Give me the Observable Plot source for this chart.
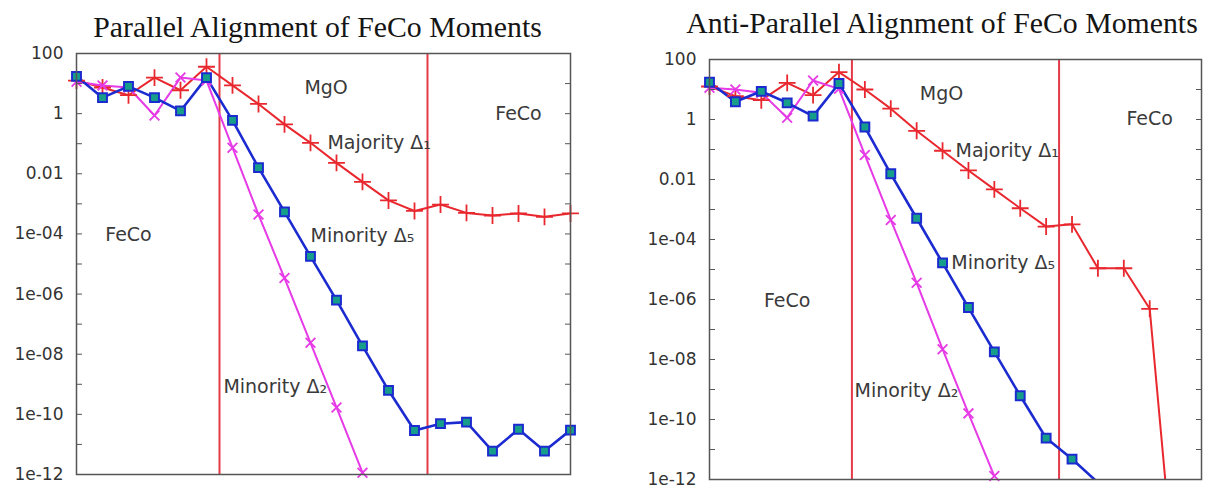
<!DOCTYPE html>
<html><head><meta charset="utf-8">
<script src="https://cdn.jsdelivr.net/npm/d3@7"></script>
<script src="https://cdn.jsdelivr.net/npm/@observablehq/plot@0.6"></script>
<style>
body{margin:0;background:#fff;}
#wrap{position:relative;width:1208px;height:489px;overflow:hidden;background:#fff;}
.title{position:absolute;font-family:"Liberation Serif","Times New Roman",serif;font-size:29.8px;line-height:29.8px;white-space:nowrap;text-align:center;color:#151515;}
.panel{position:absolute;}
</style></head><body>
<div id="wrap">
  <div class="title" style="left:0px;width:635px;top:12px">Parallel Alignment of FeCo Moments</div>
  <div class="title" style="left:642px;width:600px;top:8px">Anti-Parallel Alignment of FeCo Moments</div>
  <div class="panel" id="p1" style="left:0px;top:44px"></div>
  <div class="panel" id="p2" style="left:600px;top:50px"></div>
</div>
<script>
// ---- data (layer index = position in array) ----
const interfaces = [5.5, 13.5];            // FeCo | MgO | FeCo boundaries (layer units)
const yTickValues = [100, 1, 0.01, 1e-4, 1e-6, 1e-8, 1e-10, 1e-12];
const yTickLabels = ["100", "1", "0.01", "1e-04", "1e-06", "1e-08", "1e-10", "1e-12"];
const yMinorTicks = [10, 0.1, 1e-3, 1e-5, 1e-7, 1e-9, 1e-11];

// Parallel alignment
const parMajority1 = [12.6, 7.4, 4.1, 15.8, 6.0, 36.3, 8.7, 2.1, 0.44, 0.107, 0.023, 0.0054,
  1.3e-3, 5.8e-4, 9.5e-4, 5.0e-4, 4.1e-4, 4.8e-4, 3.7e-4, 4.8e-4];
const parMinority5 = [17.4, 3.4, 8.1, 3.4, 1.23, 15.8, 0.60, 0.016, 5.4e-4, 1.8e-5, 6.3e-7, 1.9e-8,
  6.3e-10, 2.9e-11, 4.9e-11, 5.5e-11, 6.0e-12, 3.2e-11, 6.0e-12, 3.0e-11];
const parMinority2 = [11.5, 8.7, 7.4, 0.87, 15.8, 12.6, 0.074, 4.4e-4, 3.4e-6, 2.4e-8, 1.7e-10, 1.15e-12];

// Anti-parallel alignment
const antiMajority1 = [12.6, 6.0, 4.4, 16.6, 6.5, 38, 10, 2.3, 0.42, 0.091, 0.020, 4.7e-3,
  1.1e-3, 2.7e-4, 3.2e-4, 1.1e-5, 1.1e-5, 4.9e-7, 1.6e-16];
const antiMinority5 = [17.4, 3.9, 8.7, 3.6, 1.29, 15.8, 0.56, 0.0155, 5.1e-4, 1.66e-5, 5.4e-7, 1.8e-8,
  6.2e-10, 2.4e-11, 4.8e-12, 7.9e-13];
const antiMinority2 = [11.5, 10, 7.8, 1.15, 20, 10.5, 0.066, 4.5e-4, 3.6e-6, 2.2e-8, 1.6e-10, 1.3e-12];

// annotations (data coordinates: layer, value)
const parRegionLabels = [
  {text: "MgO", layer: 9.6, v: 7.4},
  {text: "FeCo", layer: 17.0, v: 1.0},
  {text: "FeCo", layer: 2.0, v: 9.5e-5}
];
const parCurveLabels = [
  {text: "Majority Δ₁", layer: 9.65, v: 0.11},
  {text: "Minority Δ₅", layer: 9.0, v: 8.9e-5},
  {text: "Minority Δ₂", layer: 5.65, v: 8.5e-10}
];
const antiRegionLabels = [
  {text: "MgO", layer: 8.96, v: 7.4},
  {text: "FeCo", layer: 17.0, v: 1.07},
  {text: "FeCo", layer: 3.0, v: 9.3e-7}
];
const antiCurveLabels = [
  {text: "Majority Δ₁", layer: 9.5, v: 0.093},
  {text: "Minority Δ₅", layer: 9.34, v: 1.6e-5},
  {text: "Minority Δ₂", layer: 5.6, v: 9.3e-10}
];

// ---- styles ----
const RED = "#e8282e", BLUE = "#1c2bd0", MAGENTA = "#e63ae6", TEAL = "#169e8a", RULE = "#e43a48";

function rows(arr) { return arr.map((v, i) => ({layer: i, v})); }
const visible = d => d.v >= 1e-12;
const tickLabel = d => {
  const k = yTickValues.findIndex(t => Math.abs(Math.log10(t) - Math.log10(d)) < 1e-6);
  return k >= 0 ? yTickLabels[k] : "";
};

function panel({maj, min5, min2, regions, curves, width, height, ml, mr, mt, mb}) {
  const R = rows(maj), B = rows(min5), M = rows(min2);
  return Plot.plot({
    width, height,
    marginLeft: ml, marginRight: mr, marginTop: mt, marginBottom: mb,
    style: {fontFamily: "DejaVu Sans, sans-serif", fontSize: "17px", color: "#333", background: "#fff", overflow: "visible"},
    x: {domain: [0, 19], axis: null},
    y: {type: "log", domain: [1e-12, 100], axis: null},
    marks: [
      Plot.ruleX(interfaces, {stroke: RULE, strokeWidth: 2}),
      Plot.line(R, {x: "layer", y: "v", stroke: RED, strokeWidth: 2, clip: true}),
      Plot.line(M, {x: "layer", y: "v", stroke: MAGENTA, strokeWidth: 2, clip: true}),
      Plot.line(B, {x: "layer", y: "v", stroke: BLUE, strokeWidth: 2.6, clip: true}),
      Plot.dot(R, {filter: visible, x: "layer", y: "v", symbol: "plus", r: 5.5, stroke: RED, strokeWidth: 1.8}),
      Plot.dot(M, {filter: visible, x: "layer", y: "v", symbol: "times", r: 4.5, stroke: MAGENTA, strokeWidth: 1.8}),
      Plot.dot(B, {filter: visible, x: "layer", y: "v", symbol: "square", r: 5, fill: TEAL, stroke: BLUE, strokeWidth: 2}),
      Plot.frame({stroke: "#555", strokeWidth: 1.5}),
      Plot.axisY(yTickValues, {anchor: "left", tickFormat: tickLabel, tickSize: 0, tickPadding: 13, label: null, fill: "#333", fontSize: 17}),
      Plot.axisY([...yTickValues, ...yMinorTicks], {anchor: "left", text: null, label: null, tickSize: -6, stroke: "#555"}),
      Plot.axisY([...yTickValues, ...yMinorTicks], {anchor: "right", text: null, label: null, tickSize: -6, stroke: "#555"}),
      Plot.text(regions, {x: "layer", y: "v", text: "text", textAnchor: "middle", fontSize: 19, fill: "#3a3a3a"}),
      Plot.text(curves, {x: "layer", y: "v", text: "text", textAnchor: "start", fontSize: 19, fill: "#3a3a3a"})
    ]
  });
}

document.getElementById("p1").append(panel({
  maj: parMajority1, min5: parMinority5, min2: parMinority2,
  regions: parRegionLabels, curves: parCurveLabels,
  width: 600, height: 445, ml: 76, mr: 30, mt: 9, mb: 15
}));
document.getElementById("p2").append(panel({
  maj: antiMajority1, min5: antiMinority5, min2: antiMinority2,
  regions: antiRegionLabels, curves: antiCurveLabels,
  width: 608, height: 439, ml: 109, mr: 7, mt: 9, mb: 10
}));
</script>
</body></html>
